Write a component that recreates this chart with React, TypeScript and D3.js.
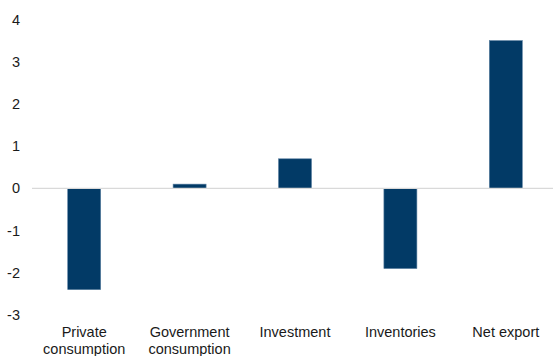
import React from "react";
import * as d3 from "d3";

const categories: string[][] = [
  ["Private", "consumption"],
  ["Government", "consumption"],
  ["Investment"],
  ["Inventories"],
  ["Net export"],
];
const values: number[] = [-2.4, 0.1, 0.7, -1.9, 3.5];
const yTicks: number[] = [-3, -2, -1, 0, 1, 2, 3, 4];

const W = 553;
const H = 356;

export default function App() {
  const keys = categories.map((c) => c.join(" "));
  const x = d3
    .scaleBand<string>()
    .domain(keys)
    .range([31.5, 558.5])
    .paddingInner(0.687)
    .paddingOuter(0.3435);
  const y = d3.scaleLinear().domain([-3, 4]).range([315, 19.5]);
  const font = "'Liberation Sans', Arial, sans-serif";
  return (
    <svg
      width={W}
      height={H}
      style={{ position: "absolute", left: 0, top: 0, background: "#fff" }}
      fontFamily={font}
    >
      {yTicks.map((t) => (
        <text
          key={t}
          x={20}
          y={y(t)}
          dy="0.35em"
          textAnchor="end"
          fontSize={14.5}
          fill="#1a1a1a"
        >
          {t}
        </text>
      ))}
      {values.map((v, i) => {
        const k = keys[i];
        const y0 = y(0);
        const yv = y(v);
        return (
          <rect
            key={k}
            x={x(k)}
            y={Math.min(y0, yv)}
            width={x.bandwidth()}
            height={Math.abs(yv - y0)}
            fill="#023a66"
            stroke="#5a7fa0"
            strokeWidth={0.6}
          />
        );
      })}
      <line
        x1={32}
        x2={553}
        y1={y(0)}
        y2={y(0)}
        stroke="#d9d9d9"
        strokeWidth={1.3}
      />
      {categories.map((lines, i) => {
        const cx = (x(keys[i]) as number) + x.bandwidth() / 2;
        return (
          <text
            key={keys[i]}
            x={cx}
            y={337}
            textAnchor="middle"
            fontSize={14.5}
            fill="#1a1a1a"
          >
            {lines.map((l, j) => (
              <tspan key={j} x={cx} dy={j === 0 ? 0 : 16.5}>
                {l}
              </tspan>
            ))}
          </text>
        );
      })}
    </svg>
  );
}
